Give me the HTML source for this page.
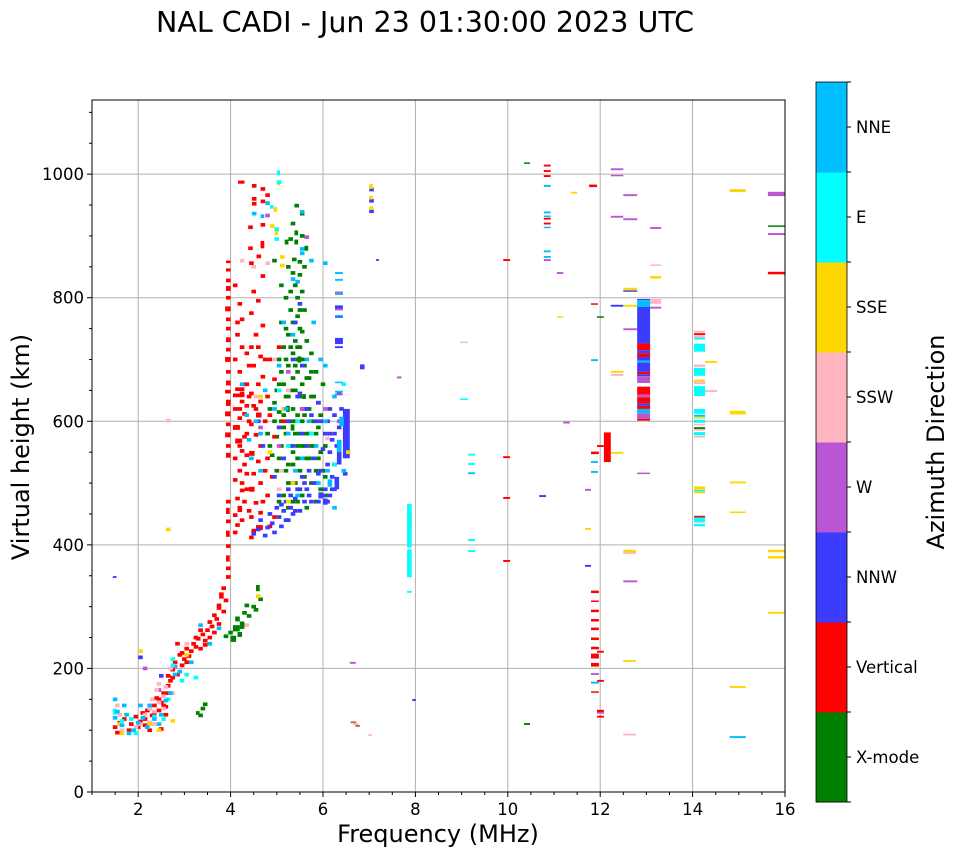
<!DOCTYPE html>
<html><head><meta charset="utf-8"><style>
html,body{margin:0;padding:0;background:#fff;}
svg{display:block;font-family:"DejaVu Sans","Liberation Sans",sans-serif;}
</style></head><body>
<svg id="chart" width="958" height="857" viewBox="0 0 958 857" xmlns="http://www.w3.org/2000/svg">
<text x="425" y="32" font-size="28.5" text-anchor="middle">NAL CADI - Jun 23 01:30:00 2023 UTC</text>
<g id="grid"></g><g id="marks"></g><g id="axes"></g><g id="cbar"></g>
<text x="438" y="842" font-size="24" text-anchor="middle">Frequency (MHz)</text>
<text transform="translate(29,447) rotate(-90)" font-size="24" text-anchor="middle">Virtual height (km)</text>
<text transform="translate(944,442) rotate(-90)" font-size="24" text-anchor="middle">Azimuth Direction</text>
</svg>
<script>
const directions=["X-mode","Vertical","NNW","W","SSW","SSE","E","NNE"];
const dirColors=["#008000","#ff0000","#3c3cff","#ba55d3","#ffb6c1","#ffd700","#00ffff","#00bfff"];
const xTicks=[2,4,6,8,10,12,14,16];
const yTicks=[0,200,400,600,800,1000];
// [freq MHz, height km, width MHz (opt), height span km (opt)]
const xmode=[[3.25,128,0.08,6],[3.35,135],[3.4,142],[3.3,124],[3.85,252],[3.95,258],[4.0,248,0.12,10],[4.05,265,0.15,10],[4.1,280,0.1,8],[4.2,270,0.1,12],[4.15,255,0.1,8],[4.25,290],[4.3,302],[4.45,300],[4.5,295],[4.55,330,0.08,10],[4.6,312],[4.35,285],
[4.75,580],[4.8,620],[4.8,560],[4.9,600],[4.95,520],[4.95,650],[5.0,470],[5.0,540],[5.0,700],[5.05,560],[5.05,760],[5.1,480],[5.1,610],[5.1,660],[5.1,720],[5.15,520],[5.15,580],[5.15,800],[5.17,890,0.08,8],[5.2,460],[5.2,500],[5.2,640],[5.2,690],[5.2,740],[5.25,560],[5.25,600],[5.25,895],[5.25,780],[5.3,470],[5.3,530],[5.3,620],[5.3,670],[5.3,710],[5.3,760],[5.33,862],[5.35,500],[5.35,580],[5.35,650],[5.35,730],[5.35,820],[5.38,905,0.08,8],[5.38,890,0.08,8],[5.38,949],[5.4,470],[5.4,540],[5.4,610],[5.4,680],[5.4,700],[5.4,770],[5.45,858],[5.45,837],[5.45,520],[5.45,640],[5.45,720],[5.5,480],[5.5,560],[5.5,600],[5.5,660],[5.5,745],[5.5,810],[5.5,936],[5.55,510],[5.55,690],[5.55,780],[5.6,460],[5.6,540],[5.6,620],[5.6,880,0.08,8],[5.6,730],[5.65,580],[5.65,670],[5.7,500],[5.7,640],[5.7,710],[5.75,560],[5.75,600],[5.8,470],[5.8,520],[5.8,680],[5.85,630],[5.85,590],[5.9,490],[5.9,550],[5.95,660],[6.0,480],[6.0,510],[5.05,820],[4.9,860],[5.3,840],[5.55,850],[5.2,620,0.08,10],[5.45,700,0.08,10],[5.3,590,0.08,10],[5.55,640,0.08,8],
[4.85,545],[4.9,630],[5.0,615],[5.05,680],[5.1,590],[5.15,640],[5.15,700],[5.2,530],[5.25,720],[5.25,650],[5.3,550],[5.35,600],[5.35,690],[5.4,560],[5.4,720],[5.45,580],[5.45,750],[5.5,620],[5.5,700],[5.55,560],[5.55,610],[5.6,670],[5.6,580],[5.65,540],[5.65,620],[5.7,560],[5.7,680],[5.75,640],[5.8,580],[5.85,540],[5.9,610],[5.95,520],[6.0,560],[5.25,810],[5.4,800],[5.2,850],[5.5,900],[5.3,920],[5.45,780],[5.15,750],[5.05,600],[5.0,660],[4.95,575],
[10.35,1018,0.13,2],[10.35,110,0.13,3],[11.93,769,0.15,2],[14.03,589,0.24,3],[15.63,916,0.37,2]];
const vertical=[[1.45,105],[1.5,96],[1.55,112],[1.65,118],[1.75,100],[1.8,110],[1.9,122],[2.0,114],[2.05,128],[2.1,118],[2.15,132],[2.25,124],[2.3,140],[2.35,152],[2.4,132],[2.45,145],[2.5,160],[2.55,138],[2.6,172],[2.6,188],[2.65,180],[2.7,198],[2.75,210],[2.8,190],[2.85,222],[2.9,205],[2.95,215],[3.0,232],[3.05,220],[3.1,228],[3.15,240],[3.2,235],[3.25,248],[3.3,232],[3.35,255],[3.4,245],[3.45,262],[3.5,250],[3.55,268],[3.6,258],[3.65,280],[3.7,272],[3.7,300,0.1,10],[3.75,318,0.1,10],[3.8,292],[3.8,330],[3.85,310],[3.6,286],[2.8,240],[2.45,102],[2.2,100],
[2.3,128],[2.4,150],[2.5,140],[2.6,160],[2.55,125],[2.2,112],[2.1,108],[1.95,105],[2.7,185],[2.9,225],[3.0,210],[3.2,250],[3.3,262],[3.5,275],[3.4,238],
[3.9,348],[3.9,362],[3.9,378,0.08,10],[3.9,398],[3.9,418,0.08,10],[3.9,438],[3.9,455,0.08,10],[3.9,470],
[3.9,545,0.1,8],[3.9,560,0.1,6],[3.88,578,0.12,8],[3.9,595,0.1,6],[3.88,612,0.12,8],[3.9,630,0.1,10],[3.88,648,0.12,6],[3.9,662,0.1,8],[3.9,680,0.1,6],[3.88,700,0.12,8],[3.9,716,0.1,6],[3.9,732,0.1,8],[3.9,750,0.1,6],[3.9,765,0.1,6],[3.88,782,0.12,8],[3.9,800,0.1,6],[3.9,815,0.1,8],[3.9,828,0.1,6],[3.9,845,0.1,5],[3.9,858,0.1,4],
[4.05,420],[4.1,432],[4.05,448],[4.15,458,0.1,10],[4.1,475],[4.2,488],[4.05,505],[4.15,520],[4.05,540],[4.2,552],[4.1,568,0.15,8],[4.25,575],[4.05,590,0.15,8],[4.15,605],[4.05,620,0.2,6],[4.2,632],[4.05,642,0.25,6],[4.1,652,0.2,6],[4.3,660],[4.15,680],[4.05,700],[4.2,720],[4.1,740],[4.2,765],[4.15,790],[4.05,820],
[4.2,500],[4.3,490],[4.25,530],[4.3,545],[4.35,600],[4.25,612],[4.3,625],[4.35,640],[4.2,645],[4.15,560],[4.3,580],[4.25,470],[4.35,455],[4.2,440],[4.3,515],[4.1,590],[4.25,660],[4.35,690],[4.3,710],[4.1,760],
[4.4,412],[4.45,422,0.1,8],[4.55,428,0.15,8],[4.4,445],[4.6,452],[4.5,468],[4.4,490,0.12,8],[4.6,500],[4.45,515],[4.55,535],[4.4,548,0.12,8],[4.6,560],[4.5,578],[4.4,595],[4.55,610,0.12,8],[4.45,625],[4.6,632],[4.4,645],[4.55,660],[4.65,672],[4.45,690],[4.6,705],[4.4,720],[4.5,740],[4.65,755],[4.4,775],[4.55,795],[4.45,810],[4.65,835],[4.4,856],[4.56,867],[4.65,886,0.08,12],[4.38,880],[4.38,914],[4.65,918],[4.46,952],[4.46,960],[4.65,956],[4.75,966],[4.65,976],[4.46,981],[4.16,987,0.14,5],
[4.8,430],[4.9,445],[4.75,480],[4.85,510],[4.75,540],[4.9,575],[4.8,610],[4.75,640],[4.9,668],[4.8,700],[5.0,720],[5.1,600],[4.7,600],[4.7,520],[4.65,470],[4.5,620],[4.7,700],[4.55,720],
[10.78,1014,0.15,3],[10.78,1005,0.15,3],[10.78,997,0.15,3],[10.78,928,0.15,3],[10.78,920,0.15,3],[9.9,861,0.15,3],[9.9,542,0.15,3],[9.9,476,0.15,3],[9.9,374,0.15,3],[11.76,981,0.17,4],[11.8,790,0.15,2],[12.08,558,0.15,48],[11.93,560,0.15,3],[11.8,549,0.17,4],[15.63,840,0.37,4],
[11.8,324,0.17,4],[11.8,309,0.17,2],[11.8,293,0.17,4],[11.8,278,0.17,4],[11.8,264,0.17,4],[11.8,248,0.17,4],[11.8,233,0.17,4],[11.8,220,0.17,8],[11.8,206,0.17,6],[11.93,227,0.15,3],[11.93,180,0.15,3],[11.8,162,0.17,2],[11.93,131,0.15,4],[11.93,122,0.15,3],
[14.03,445,0.24,4],[14.03,741,0.24,3]];
const nnw=[[1.45,348,0.08,3],[2.0,218],[2.45,188],
[4.45,418],[4.55,425],[4.6,440],[4.7,415],[4.75,428],[4.8,450],[4.85,435],[4.9,420],[4.95,460],[5.0,445],[5.0,480],[5.05,430],[5.1,455],[5.15,470],[5.2,440],[5.2,490],[5.25,460],[5.3,450],[5.3,500],[5.35,475],[5.4,490],[5.45,455],[5.5,510],[5.55,470],[5.6,490],[5.65,520],[5.7,470],[5.75,540],[5.8,500],[5.85,470],[5.9,520],[5.95,555],[6.0,490],[6.0,580],[6.05,530],[6.05,600],[6.1,480],[6.1,550],[6.15,510],[6.15,570],[6.2,490],[6.2,610],[6.25,500,0.1,20],[6.3,545,0.1,30],[6.3,590],[6.35,620],[6.43,580,0.15,80],[6.43,515],[5.6,620],[5.45,645],[5.2,600],[5.3,560],[5.1,540],[5.5,580],[5.4,640],[5.0,590],[4.9,510],[5.7,610],[5.8,600],[5.85,630],[6.1,620],[6.3,645],[5.3,700],[5.35,760],[5.45,790],[4.65,560],[4.55,600],[5.5,690],[6.0,470,0.1,10],[5.9,480,0.1,10],
[5.05,465],[5.15,440],[5.25,480],[5.35,455],[5.45,490],[5.55,500],[5.65,480],[5.75,500],[5.85,515],[5.95,480],[6.05,470],[6.15,490],[6.2,530],[6.1,580],[6.25,560],[6.2,580],[5.9,600],[5.6,560],
[6.26,730,0.17,10],[6.26,720,0.17,3],[6.26,785,0.17,5],[6.26,769,0.17,2],[6.8,688,0.1,8],[7.0,975],[7.0,957],[7.0,940],[7.15,861,0.06,3],
[7.93,149,0.08,3],[10.68,479,0.15,3],[11.67,366,0.13,3],[12.23,787,0.27,3],[12.5,811,0.3,2]];
const wdir=[[6.26,808,0.17,4],[6.26,781,0.17,3],[6.26,644,0.17,2],[7.6,671,0.1,3],[6.58,209,0.13,3],[6.6,113,0.12,3],[6.7,107,0.1,3],[5.6,898],[4.75,933],[5.2,680],[5.5,620],[5.0,560],[6.3,600],[6.0,620],[4.6,590],[2.4,165],[2.1,200],[2.75,203],
[12.23,1008,0.27,3],[12.23,998,0.27,2],[12.5,966,0.3,3],[12.23,931,0.27,3],[12.5,927,0.3,3],[13.08,913,0.24,3],[10.78,861,0.15,3],[11.06,840,0.14,3],[13.08,784,0.24,3],[12.5,749,0.3,3],[11.2,598,0.14,3],[12.8,516,0.28,2],[11.67,489,0.13,3],[12.5,341,0.3,3],[11.8,191,0.17,3],[11.93,128,0.15,2],[15.63,968,0.37,7],[15.63,903,0.37,3]];
const ssw=[[1.5,140],[1.55,125],[1.6,100],[2.0,110],[2.1,125],[2.2,135],[2.25,150],[2.3,130],[2.35,165],[2.4,145],[2.4,175],[2.5,155],[2.5,135],[2.55,170],[2.6,150],[2.65,200],[2.2,112],[2.7,160],[1.9,105],[2.3,110],[2.6,601],[4.45,850],[4.75,856],[4.2,860],[4.5,640],[5.0,490],[5.2,650],[4.9,700],[5.05,520],[6.05,572],[4.3,270],[3.0,240],
[8.97,728,0.17,2],[13.08,853,0.24,2],[13.08,794,0.24,8],[12.23,675,0.27,3],[12.5,387,0.27,3],[12.5,93,0.27,3],[14.27,649,0.26,3],[14.8,975,0.35,2],[6.98,92,0.08,3],
[14.03,745,0.24,3],[14.03,737,0.24,3],[14.03,717,0.24,2],[14.03,690,0.24,4],[14.03,662,0.24,4],[14.03,595,0.24,2],[14.03,586,0.24,2],[14.03,575,0.24,3],[14.03,437,0.24,2]];
const sse=[[2.0,228],[2.6,425],[2.7,115],[2.2,110],[1.6,95],[1.55,110],[2.4,100],[3.0,222],[4.55,317],[4.93,943,0.08,8],[4.85,916],[4.95,905,0.08,8],[5.07,866],[5.07,852],[5.0,985,0.07,6],[4.6,640],[5.1,620],[4.8,550],[5.3,500],[6.5,550],[5.2,470],[7.0,980,0.08,8],[7.0,962,0.08,6],[7.0,945,0.08,6],[7.82,450,0.1,4],[7.82,440,0.1,4],
[11.37,970,0.13,3],[12.5,814,0.3,4],[12.5,787,0.3,3],[13.08,833,0.24,4],[11.06,769,0.14,2],[12.23,680,0.27,3],[12.23,549,0.27,3],[11.67,426,0.13,3],[12.5,390,0.27,4],[12.5,212,0.27,3],[14.27,696,0.26,3],[14.8,973,0.35,4],[14.8,614,0.35,6],[14.8,501,0.35,3],[14.8,453,0.35,2],[14.8,170,0.35,3],[15.63,390,0.37,4],[15.63,380,0.37,4],[15.63,290,0.37,3],[6.65,110,0.12,3],
[14.03,666,0.24,3],[14.03,606,0.24,2],[14.03,492,0.24,5],[14.03,485,0.24,3]];
const edir=[[1.45,130,0.08,10],[1.6,115],[1.8,118],[2.3,122],[2.5,118],[1.9,95],[2.6,150],[2.7,205],[3.0,190],[2.9,180],[5.0,1002,0.07,8],[5.0,987],[4.85,947,0.08,6],[4.95,911],[4.95,895],[5.0,650],[5.2,560],[5.4,600],[6.2,530],[5.7,580],[6.4,660],[2.7,215],[3.2,185],
[7.82,431,0.1,70],[7.82,370,0.1,45],[7.82,324,0.1,3],[8.97,636,0.17,2],[9.14,546,0.15,3],[9.14,531,0.15,3],[9.14,408,0.15,3],[9.14,390,0.15,3],
[14.03,734,0.24,3],[14.03,719,0.24,13],[14.03,680,0.24,13],[14.03,649,0.24,16],[14.03,616,0.24,8],[14.03,600,0.24,5],[14.03,580,0.24,5],[14.03,488,0.24,2],[14.03,441,0.24,7],[14.03,432,0.24,4]];
const nne=[[1.45,120],[1.5,130],[1.6,108],[1.7,125],[1.75,95],[1.85,100],[1.95,112],[2.05,120],[2.15,105],[2.2,140],[2.3,118],[2.4,110],[2.45,125],[2.55,148],[2.65,160],[2.75,190],[2.85,195],[3.1,210],[1.45,150],[2.0,140],[3.3,270],[3.5,240],[3.7,265],[1.65,140],
[4.65,932,0.08,6],[4.75,953],[5.5,939],[5.5,879],[5.5,872],[5.7,860],[6.0,856],[5.3,830],[5.4,826],[4.46,936],[5.1,760],[5.3,740],[5.0,690],[5.6,700],[4.9,620],[5.2,580],[5.5,540],[5.8,560],[6.0,600],[6.05,520],[6.2,640],[6.3,560,0.1,20],[6.35,600,0.1,15],[6.4,520],[5.4,480],[4.7,650],[4.6,580],[4.3,610],[4.2,660],[5.9,700],[5.75,760],[6.0,690],[6.1,500,0.1,12],
[4.4,540],[4.5,600],[4.35,570],[4.6,520],[5.15,620],[5.35,520],[5.65,600],[5.85,500],[6.2,460],
[6.26,840,0.17,3],[6.26,829,0.17,3],[6.26,806,0.17,3],[6.26,771,0.17,2],[6.26,663,0.17,2],[6.26,648,0.17,3],
[10.78,981,0.15,3],[10.78,938,0.15,3],[10.78,932,0.15,2],[10.78,914,0.15,2],[10.78,875,0.15,3],[10.78,866,0.15,3],[11.8,699,0.15,3],[11.8,534,0.15,3],[11.8,518,0.15,3],[9.14,516,0.15,3],[11.8,177,0.17,3],[14.8,89,0.35,3],[14.03,609,0.24,3]];
// stacked column near 12.9 MHz: [lowKm, highKm, directionIndex]
const stripeFreq=12.8;
const stripeSegs=[[796,798,2],[785,796,7],[726,785,2],[715,726,1],[710,715,2],[704,710,1],[698,704,2],[695,698,7],[680,695,2],[676,680,1],[673,676,2],[662,673,3],[643,656,1],[639,643,3],[629,639,1],[625,629,2],[620,625,1],[613,620,7],[604,613,3],[601,604,1]];
const seriesList=[xmode,vertical,nnw,wdir,ssw,sse,edir,nne];

const L=92,R=785,T=100,B=792,XMIN=1,XMAX=16,YMIN=0,YMAX=1120;
function X(f){return L+(f-XMIN)/(XMAX-XMIN)*(R-L);}
function Y(h){return B-(h-YMIN)/(YMAX-YMIN)*(B-T);}
const NS="http://www.w3.org/2000/svg";
function mk(tag,attrs,parent){const e=document.createElementNS(NS,tag);for(const k in attrs)e.setAttribute(k,attrs[k]);parent.appendChild(e);return e;}
const grid=document.getElementById('grid'),marks=document.getElementById('marks'),axes=document.getElementById('axes'),cbar=document.getElementById('cbar');
xTicks.forEach(v=>{const l=mk('line',{x1:X(v),x2:X(v),y1:T,y2:B,stroke:'#b0b0b0','stroke-width':1},grid);

});
yTicks.forEach(v=>{const l=mk('line',{x1:L,x2:R,y1:Y(v),y2:Y(v),stroke:'#b0b0b0','stroke-width':1},grid);

});
seriesList.forEach((arr,di)=>{arr.forEach(p=>{const w=p[2]||0.1,dh=p[3]||6;
const r=mk('rect',{x:X(p[0]).toFixed(1),y:Y(p[1]+dh/2).toFixed(1),width:(X(p[0]+w)-X(p[0])).toFixed(1),height:Math.max(1.5,Y(p[1]-dh/2)-Y(p[1]+dh/2)).toFixed(1),fill:dirColors[di]},marks);

});});
stripeSegs.forEach(s=>{const r=mk('rect',{x:X(stripeFreq),y:Y(s[1]),width:X(stripeFreq+0.28)-X(stripeFreq),height:Y(s[0])-Y(s[1]),fill:dirColors[s[2]]},marks);

});
const frame=mk('rect',{x:L,y:T,width:R-L,height:B-T,fill:'none',stroke:'#000','stroke-width':1},axes);


for(let v=1;v<=16;v+=0.5){const major=xTicks.includes(v);mk('line',{x1:X(v),x2:X(v),y1:B,y2:B+(major?5:3),stroke:'#000'},axes);
if(major){const t=mk('text',{x:X(v),y:B+23,'font-size':16.5,'text-anchor':'middle'},axes);t.textContent=v;

}}
for(let v=0;v<=1100;v+=50){const major=yTicks.includes(v);mk('line',{x1:L,x2:L-(major?5:3),y1:Y(v),y2:Y(v),stroke:'#000'},axes);
if(major){const t=mk('text',{x:L-8,y:Y(v)+6,'font-size':16.5,'text-anchor':'end'},axes);t.textContent=v;

}}
const CT=82,CB=802,CL=816,CW=31,segH=(CB-CT)/directions.length;
directions.forEach((d,i)=>{const y=CB-(i+1)*segH;
const r=mk('rect',{x:CL,y:y,width:CW,height:segH+0.5,fill:dirColors[i]},cbar);


mk('line',{x1:CL+CW,x2:CL+CW+4,y1:y+segH/2,y2:y+segH/2,stroke:'#000'},cbar);
const t=mk('text',{x:CL+CW+9,y:y+segH/2+6,'font-size':16.5},cbar);t.textContent=d;

});
for(let i=0;i<=directions.length;i++){mk('line',{x1:CL+CW,x2:CL+CW+4,y1:CB-i*segH,y2:CB-i*segH,stroke:'#000'},cbar);}
const cf=mk('rect',{x:CL,y:CT,width:CW,height:CB-CT,fill:'none',stroke:'#000','stroke-width':0.8},cbar);


</script>
</body></html>
